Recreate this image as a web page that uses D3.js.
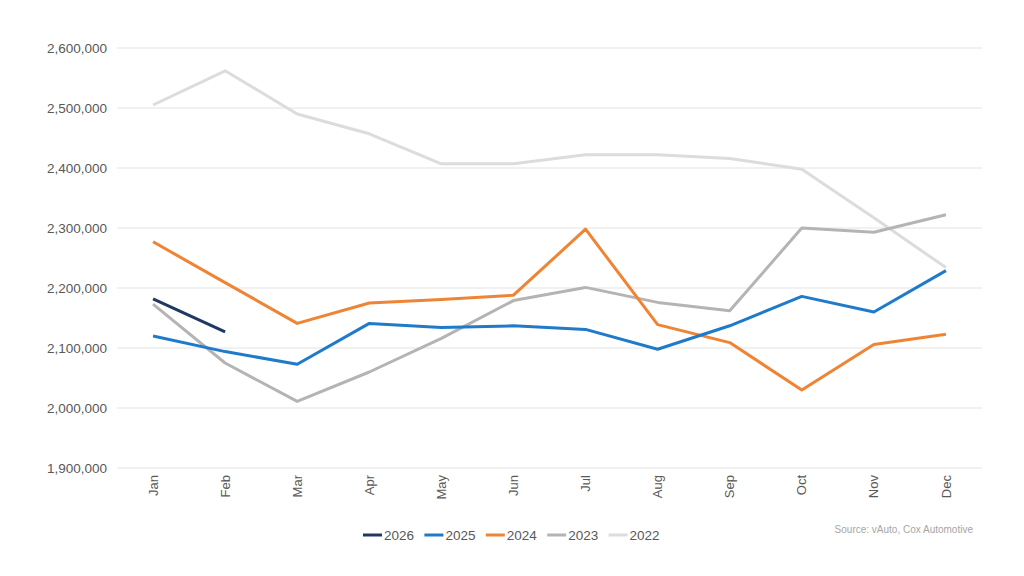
<!DOCTYPE html>
<html>
<head>
<meta charset="utf-8">
<script src="https://cdn.jsdelivr.net/npm/d3@7"></script>
<style>
  body { margin: 0; background: #fff; }
  svg { display: block; font-family: "Liberation Sans", Arial, sans-serif; }
</style>
</head>
<body>
<script>
var months = ['Jan', 'Feb', 'Mar', 'Apr', 'May', 'Jun', 'Jul', 'Aug', 'Sep', 'Oct', 'Nov', 'Dec'];
var years = ['2026', '2025', '2024', '2023', '2022'];
var yTicks = [1900000, 2000000, 2100000, 2200000, 2300000, 2400000, 2500000, 2600000];

var v2026 = [2182000, 2127000];
var v2025 = [2120000, 2094000, 2073000, 2141000, 2134000, 2137000, 2131000, 2098000, 2137000, 2186000, 2160000, 2229000];
var v2024 = [2277000, 2209000, 2141000, 2175000, 2181000, 2188000, 2298000, 2139000, 2109000, 2030000, 2106000, 2123000];
var v2023 = [2173000, 2075000, 2011000, 2060000, 2116000, 2179000, 2201000, 2176000, 2162000, 2300000, 2293000, 2322000];
var v2022 = [2505000, 2562000, 2490000, 2457000, 2407000, 2407000, 2422000, 2422000, 2416000, 2398000, 2317000, 2234000];

var colors = { '2026': '#203864', '2025': '#1f7bc9', '2024': '#ee8434', '2023': '#b4b4b4', '2022': '#dcdcdc' };
var series = { '2026': v2026, '2025': v2025, '2024': v2024, '2023': v2023, '2022': v2022 };

var W = 1024, H = 576;
var mLeft = 117, mRight = 982, mTop = 48, mBottom = 468;

var svg = d3.select('body').append('svg').attr('width', W).attr('height', H);

var x = d3.scaleBand().domain(months).range([mLeft, mRight]);
var y = d3.scaleLinear().domain([1900000, 2600000]).range([mBottom, mTop]);

// grid
svg.append('g')
  .selectAll('line')
  .data(yTicks)
  .join('line')
    .attr('x1', mLeft).attr('x2', mRight)
    .attr('y1', d => y(d)).attr('y2', d => y(d))
    .attr('stroke', '#e3e3e3').attr('stroke-width', 1);

// y axis labels
svg.append('g')
  .selectAll('text')
  .data(yTicks)
  .join('text')
    .attr('x', 107).attr('y', d => y(d))
    .attr('dy', '0.35em')
    .attr('text-anchor', 'end')
    .attr('font-size', 13.5)
    .attr('fill', '#595959')
    .text(d => d3.format(',')(d));

// x axis labels
svg.append('g')
  .selectAll('text')
  .data(months)
  .join('text')
    .attr('transform', d => 'translate(' + (x(d) + x.bandwidth() / 2) + ',475) rotate(-90)')
    .attr('dy', '0.35em')
    .attr('text-anchor', 'end')
    .attr('font-size', 13)
    .attr('fill', '#595959')
    .text(d => d);

var line = d3.line()
  .x((d, i) => x(months[i]) + x.bandwidth() / 2)
  .y(d => y(d));

years.slice().reverse().forEach(function(k) {
  svg.append('path')
    .datum(series[k])
    .attr('d', line)
    .attr('fill', 'none')
    .attr('stroke', colors[k])
    .attr('stroke-width', 3)
    .attr('stroke-linejoin', 'round');
});

// legend
var lg = svg.append('g')
  .selectAll('g')
  .data(years)
  .join('g')
    .attr('transform', (d, i) => 'translate(' + (363 + i * 61.4) + ',535)');
lg.append('line')
  .attr('x1', 0).attr('x2', 19)
  .attr('stroke', d => colors[d]).attr('stroke-width', 3);
lg.append('text')
  .attr('x', 21).attr('dy', '0.35em')
  .attr('font-size', 13.5)
  .attr('fill', '#595959')
  .text(d => d);

svg.append('text')
  .attr('x', 973).attr('y', 529)
  .attr('dy', '0.35em')
  .attr('text-anchor', 'end')
  .attr('font-size', 10)
  .attr('fill', '#a6a6a6')
  .text('Source: vAuto, Cox Automotive');
</script>
</body>
</html>
